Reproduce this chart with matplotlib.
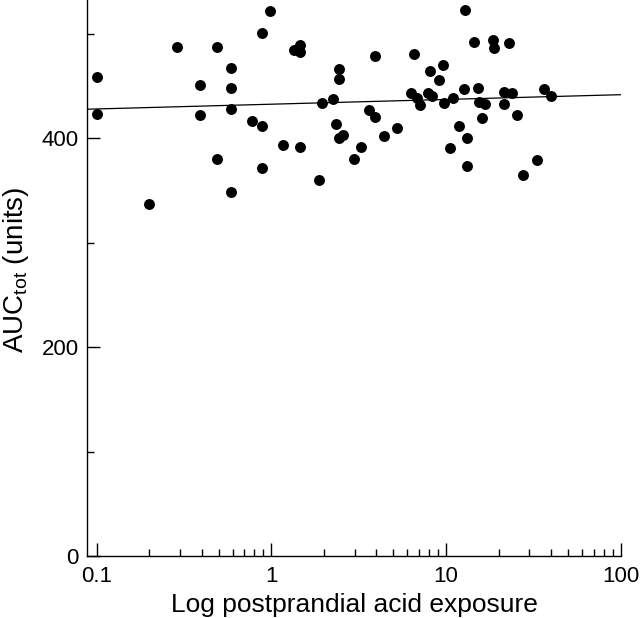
import matplotlib
matplotlib.use('Agg')
import matplotlib.pyplot as plt
from matplotlib.ticker import FixedLocator, FuncFormatter, NullFormatter

# Log postprandial acid exposure (x) and AUC_tot (y)
acid_exposure = [
    0.1, 0.1, 0.2, 0.29, 0.39, 0.39, 0.49, 0.49, 0.59, 0.59,
    0.59, 0.59, 0.98, 0.89, 1.34, 1.46, 1.46, 3.92, 2.45, 2.45,
    2.26, 1.95, 0.78, 0.89, 1.17, 1.46, 0.89, 1.87, 2.34, 2.45,
    2.58, 3.24, 2.97, 3.61, 3.94, 4.41, 5.26, 12.8, 6.55, 14.4,
    18.5, 18.9, 23.0, 9.6, 8.12, 9.1, 6.3, 6.84, 7.09, 7.91,
    8.27, 9.77, 10.9, 12.7, 15.3, 15.5, 16.7, 21.4, 23.8, 21.4,
    36.2, 39.7, 16.0, 25.4, 11.9, 13.2, 10.6, 13.2, 33.0, 27.7,
]
auc_tot = [
    459, 423, 337, 487, 451, 422, 487, 380, 467, 448,
    428, 349, 522, 501, 484, 489, 483, 479, 466, 457,
    438, 434, 417, 412, 394, 392, 372, 360, 414, 400,
    403, 392, 380, 427, 420, 402, 410, 523, 481, 492,
    494, 486, 491, 470, 464, 456, 443, 439, 432, 443,
    440, 434, 439, 447, 448, 435, 433, 444, 443, 433,
    447, 440, 419, 422, 412, 400, 391, 373, 379, 365,
]

# regression line end points
fit_x = [0.0884, 100]
fit_y = [427.8, 441.7]

x_limits = (0.0884, 100)
y_limits = (0, 532.3)
x_major = [0.1, 1, 10, 100]
y_major = [0, 200, 400]
y_minor = [100, 300, 500]


def setup_fonts():
    plt.rcParams['font.family'] = ['Liberation Sans', 'DejaVu Sans']
    plt.rcParams['mathtext.fontset'] = 'custom'
    plt.rcParams['mathtext.rm'] = 'Liberation Sans'
    plt.rcParams['mathtext.it'] = 'Liberation Sans:italic'


def main():
    setup_fonts()
    fig = plt.figure(figsize=(6.4, 6.18), dpi=100)
    ax = fig.add_axes([0.1364, 0.0998, 0.8334, 0.9002])

    ax.scatter(acid_exposure, auc_tot, s=62, color='black', linewidths=0, zorder=3)
    ax.plot(fit_x, fit_y, color='black', lw=0.9, zorder=2)

    ax.set_xscale('log')
    ax.set_xlim(*x_limits)
    ax.set_ylim(*y_limits)

    for side in ['top', 'right']:
        ax.spines[side].set_visible(False)
    for side in ['left', 'bottom']:
        ax.spines[side].set_linewidth(1.0)

    # minor ticks only inside the 0.1 - 100 range
    x_minor = [m * d for d in x_major[:-1] for m in range(2, 10)]
    ax.xaxis.set_major_locator(FixedLocator(x_major))
    ax.xaxis.set_minor_locator(FixedLocator(x_minor))
    ax.xaxis.set_major_formatter(FuncFormatter(lambda v, p: '%g' % v))
    ax.xaxis.set_minor_formatter(NullFormatter())
    ax.yaxis.set_major_locator(FixedLocator(y_major))
    ax.yaxis.set_minor_locator(FixedLocator(y_minor))

    ax.tick_params(which='major', direction='in', length=9.2, width=1.0, labelsize=16)
    ax.tick_params(which='minor', direction='in', length=4.8, width=1.0)
    ax.tick_params(axis='x', which='major', pad=7)
    ax.tick_params(axis='y', which='major', pad=6)

    ax.set_xlabel('Log postprandial acid exposure', fontsize=19)
    ax.xaxis.label.set_va('baseline')
    ax.xaxis.set_label_coords(0.5, -0.1)

    ax.set_ylabel(r'AUC$_{\mathrm{tot}}$ (units)', fontsize=20)
    ax.yaxis.set_label_coords(-0.106, 0.515)

    fig.savefig('out.png', dpi=100)
    plt.close(fig)


if __name__ == "__main__":
    main()
